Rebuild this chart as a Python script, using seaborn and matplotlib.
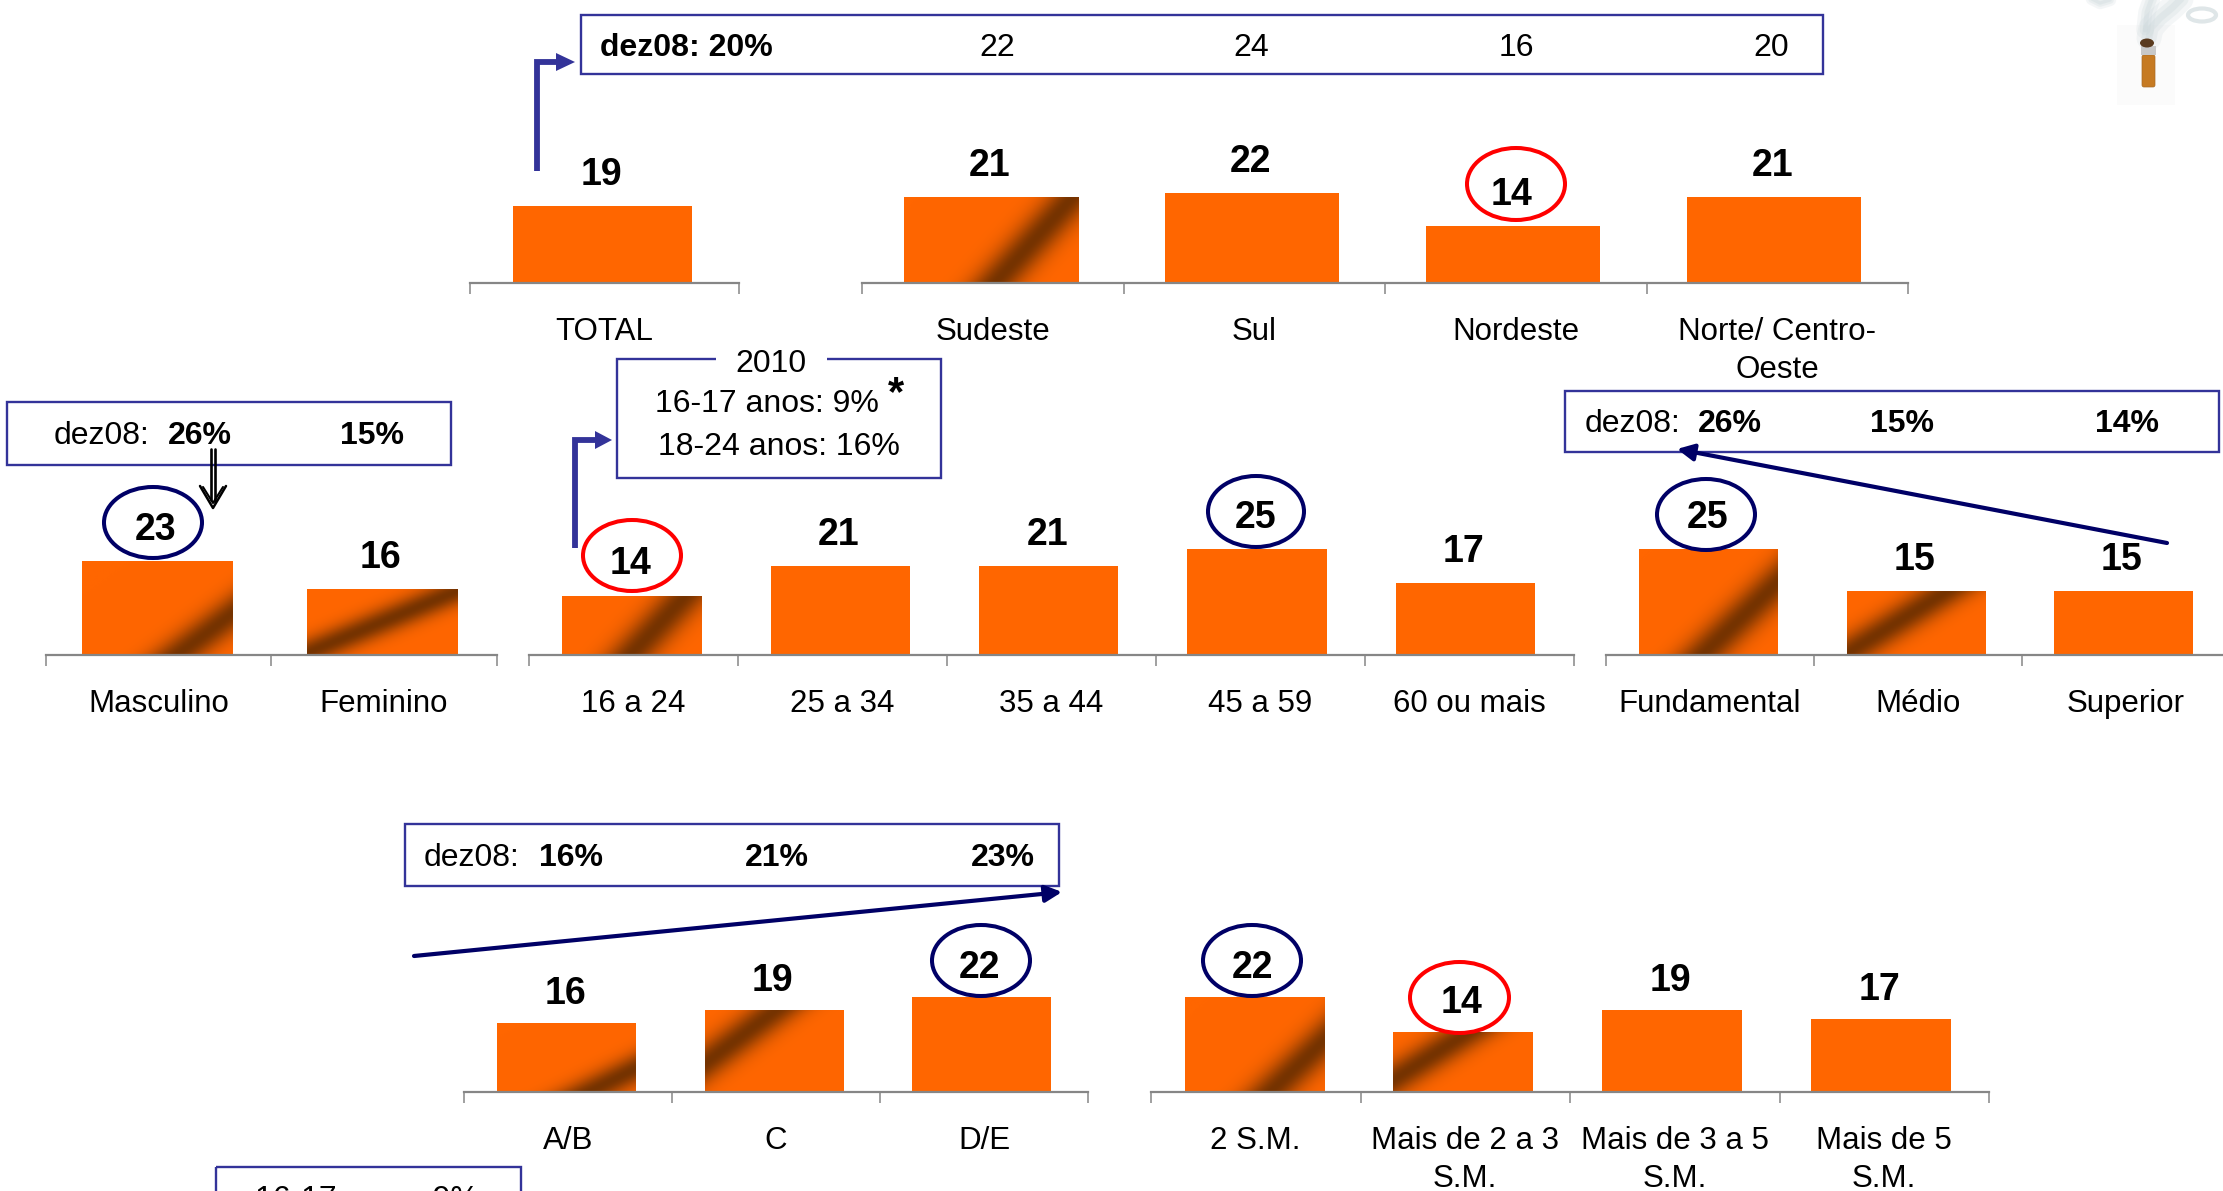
import numpy as np
import matplotlib
matplotlib.use("Agg")
import matplotlib.pyplot as plt
from matplotlib.patches import Ellipse, FancyBboxPatch, Polygon, Rectangle
import seaborn as sns

# Survey results per breakdown (percent)
total_labels = ["TOTAL"]
total_values = [19]
region_labels = ["Sudeste", "Sul", "Nordeste", "Norte/ Centro-\nOeste"]
region_values = [21, 22, 14, 21]
sex_labels = ["Masculino", "Feminino"]
sex_values = [23, 16]
age_labels = ["16 a 24", "25 a 34", "35 a 44", "45 a 59", "60 ou mais"]
age_values = [14, 21, 21, 25, 17]
school_labels = ["Fundamental", "Médio", "Superior"]
school_values = [25, 15, 15]
class_labels = ["A/B", "C", "D/E"]
class_values = [16, 19, 22]
income_labels = ["2 S.M.", "Mais de 2 a 3\nS.M.", "Mais de 3 a 5\nS.M.", "Mais de 5\nS.M."]
income_values = [22, 14, 19, 17]

# Previous wave, December 2008
dez08_region = ["22", "24", "16", "20"]

W, H = 2223, 1191
ORANGE = "#ff6600"
BROWN = (0.46, 0.20, 0.0)
BOX = "#333399"
NAVY = "#000066"
AXIS = "#868686"
PT = 72 / 100  # points per pixel at dpi 100

sns.set_theme(style="white")
plt.rcParams["font.family"] = ["Liberation Sans", "DejaVu Sans"]

fig = plt.figure(figsize=(W / 100, H / 100), dpi=100, facecolor="white")

# Panel layout: left tick, right tick, baseline, pixels per percent point, label gap
panels = [
    (total_labels, total_values, 469.5, 738.5, 283, 4.07, 31),
    (region_labels, region_values, 862, 1908, 283, 4.1, 31),
    (sex_labels, sex_values, 45.5, 497, 655, 4.1, 31),
    (age_labels, age_values, 529, 1574, 655, 4.25, 31),
    (school_labels, school_values, 1606, 2230, 655, 4.25, 31),
    (class_labels, class_values, 464, 1088, 1092, 4.3, 29),
    (income_labels, income_values, 1151, 1989, 1092, 4.3, 29),
]

# Diagonal sheen on some bars: (u0, v0, u1, v1) line in bar fractions
sheen = {
    "Sudeste": (0.52, 0, 0.97, 1),
    "Masculino": (0.63, 0, 1.0, 0.44),
    "Feminino": (0.0, 0.03, 0.95, 0.93),
    "16 a 24": (0.49, 0, 0.875, 0.97),
    "Fundamental": (0.455, 0, 1.0, 0.68),
    "Médio": (0.02, 0.05, 0.69, 0.96),
    "A/B": (0.66, 0, 1.0, 0.34),
    "C": (0.0, 0.35, 0.48, 0.96),
    "2 S.M.": (0.61, 0, 1.0, 0.55),
    "Mais de 2 a 3\nS.M.": (0.03, 0.24, 0.54, 0.98),
}


def add_sheen(ax, bar, line, px_w, px_h):
    x0, w, h = bar.get_x(), bar.get_width(), bar.get_height()
    u0, v0, u1, v1 = line
    nx, ny = int(px_w), int(px_h)
    xs = (np.arange(nx) + 0.5) / nx
    ys = (np.arange(ny) + 0.5) / ny
    uu, vv = np.meshgrid(xs, ys)
    # horizontal distance from the band centre, in pixels; shallow bands read wider
    cx = u0 + (vv - v0) * (u1 - u0) / (v1 - v0)
    d = (uu - cx) * px_w
    slope = abs((v1 - v0) * px_h / ((u1 - u0) * px_w))
    t = np.exp(-(d / (19.0 + 7.0 / slope)) ** 2)[..., None]
    rgb = np.array(matplotlib.colors.to_rgb(ORANGE)) * (1 - t) + np.array(BROWN) * t
    im = ax.imshow(rgb, extent=(x0, x0 + w, 0, h), origin="lower", aspect="auto",
                   zorder=bar.get_zorder() + 0.1, interpolation="bilinear")
    im.set_clip_path(bar)


for labels, values, left, right, base, scale, gap in panels:
    ax_h = 150
    ax = fig.add_axes([left / W, 1 - base / H, (right - left) / W, ax_h / H])
    ax.patch.set_alpha(0)
    sns.barplot(x=labels, y=values, order=labels, color=ORANGE, saturation=1,
                width=2 / 3, linewidth=0, ax=ax)
    n = len(labels)
    slot_px = (right - left) / n
    bar_px = slot_px * 2 / 3
    for i, (name, val, bar) in enumerate(zip(labels, values, ax.patches)):
        # bars sit a touch left of their slot, increasingly so along the panel
        bar.set_x(bar.get_x() - (1.4 + 0.7 * i) / slot_px)
        if name in sheen:
            add_sheen(ax, bar, sheen[name], bar_px, val * scale)
        ax.annotate(str(val), (bar.get_x() + bar.get_width() / 2, val),
                    xytext=(-1.5 * PT, gap * PT), textcoords="offset points",
                    ha="center", va="center", fontsize=27, fontweight="bold",
                    color="black", annotation_clip=False)
    ax.set_xlim(-0.5, n - 0.5)
    ax.set_ylim(0, ax_h / scale)
    sns.despine(ax=ax, left=True, top=True, right=True)
    ax.spines["bottom"].set_color(AXIS)
    ax.spines["bottom"].set_linewidth(1.6)
    ax.set_yticks([])
    ax.set_xlabel("")
    ax.set_ylabel("")
    ax.set_xticks(range(n))
    ax.set_xticklabels(labels, fontsize=22.5, color="black", linespacing=1.36)
    ax.set_xticks(np.arange(n + 1) - 0.5, minor=True)
    ax.tick_params(axis="x", which="major", length=0, pad=24.5)
    ax.tick_params(axis="x", which="minor", length=11 * PT, width=1.1,
                   color=AXIS, bottom=True, direction="out")

# Callouts, rings and arrows share one pixel-addressed overlay
ov = fig.add_axes([0, 0, 1, 1], zorder=10)
ov.set_xlim(0, W)
ov.set_ylim(H, 0)
ov.axis("off")
ov.patch.set_alpha(0)


def box(x0, y0, x1, y1):
    ov.add_patch(Rectangle((x0, y0), x1 - x0, y1 - y0, fill=False, ec=BOX, lw=1.7, zorder=3))


def label(x, y, s, ha="center", bold=False, size=23, **kw):
    ov.text(x, y + 2.5, s, ha=ha, va="center", fontsize=size, color="black",
            fontweight="bold" if bold else "normal", zorder=5, **kw)


def elbow(x, y_bottom, y_top, x_head0, x_tip):
    ov.plot([x, x, x_head0], [y_bottom, y_top, y_top], color=BOX, lw=4.2,
            solid_joinstyle="miter", solid_capstyle="butt", zorder=4)
    ov.add_patch(Polygon([(x_head0, y_top - 9), (x_tip, y_top), (x_head0, y_top + 9)],
                         closed=True, fc=BOX, ec="none", zorder=4))


def slanted(x0, y0, x1, y1):
    ov.annotate("", xy=(x1, y1), xytext=(x0, y0), zorder=4,
                arrowprops=dict(arrowstyle="-|>,head_width=0.25,head_length=0.5", color=NAVY,
                                lw=3, shrinkA=0, shrinkB=0, mutation_scale=20))


def ring(x0, y0, x1, y1, color):
    ov.add_patch(Ellipse(((x0 + x1) / 2, (y0 + y1) / 2), x1 - x0, y1 - y0,
                         fill=False, ec=color, lw=2.9, zorder=4))


# Top row: December 2008 strip
box(581, 15, 1823, 74)
label(600, 45, "dez08: 20%", ha="left", bold=True)
for x, s in zip([997, 1251, 1516, 1771], dez08_region):
    label(x, 45, s)
elbow(537, 171, 62, 556, 575)

# Sex strip with a black double-shafted arrow
box(7, 402, 451, 465)
label(54, 433, "dez08:", ha="left")
label(168, 433, "26%", ha="left", bold=True)
label(372, 433, "15%", bold=True)
ov.plot([211, 211], [449, 500], color="black", lw=1.9, zorder=6)
ov.plot([214.5, 214.5], [449, 502], color="black", lw=1.9, zorder=6)
ov.plot([200, 213, 226], [486, 508, 486], color="black", lw=1.8, zorder=6)
ov.plot([203, 213, 223], [487, 503, 487], color="black", lw=1.5, zorder=6)

# Age callout with a title breaking its top edge
box(617, 359, 941, 478)
ov.add_patch(Rectangle((716, 350), 111, 20, fc="white", ec="none", zorder=4))
label(771, 361, "2010")
label(767, 401, "16-17 anos: 9%")
label(896, 392, "*", bold=True, size=30)
label(779, 444.5, "18-24 anos: 16%")
elbow(575, 548, 440, 595, 612)

# Schooling strip
box(1565, 391, 2219, 452)
label(1585, 421, "dez08:", ha="left")
label(1698, 421, "26%", ha="left", bold=True)
label(1902, 421, "15%", bold=True)
label(2127, 421, "14%", bold=True)
slanted(2167, 543, 1677, 449)

# Class strip
box(405, 824, 1059, 886)
label(424, 855, "dez08:", ha="left")
label(539, 855, "16%", ha="left", bold=True)
label(777, 855, "21%", bold=True)
label(1003, 855, "23%", bold=True)
slanted(414, 956, 1062, 892)

# Callout running off the lower edge
box(216, 1167, 521, 1230)
label(367, 1197, "16-17 anos: 9%")

# Highlight rings around notable values
ring(1467, 148, 1565, 220, "#ff0000")
ring(104, 487, 202, 558, NAVY)
ring(583, 520, 681, 591, "#ff0000")
ring(1208, 476, 1304, 547, NAVY)
ring(1657, 479, 1755, 550, NAVY)
ring(932, 925, 1030, 996, NAVY)
ring(1203, 925, 1301, 996, NAVY)
ring(1410, 962, 1509, 1033, "#ff0000")

# Cigarette with a wisp of smoke, top right
ov.add_patch(Rectangle((2117, 25), 58, 80, fc="#fbfbfb", ec="none", zorder=1))
smoke_x = [2149, 2151, 2160, 2172, 2182]
smoke_y = [38, 28, 18, 8, -2]
for lw, a in [(18, 0.18), (11, 0.22), (5, 0.25)]:
    ov.plot(smoke_x, smoke_y, color="#c5d2d6", lw=lw, alpha=a, solid_capstyle="round", zorder=2)
    ov.plot([2145, 2147, 2152], [30, 12, -2], color="#c5d2d6", lw=lw * 0.7, alpha=a, zorder=2)
    ov.plot([2092, 2100, 2110], [-1, 3, 0], color="#c5d2d6", lw=lw * 0.5, alpha=a, zorder=2)
ov.add_patch(Ellipse((2202, 15), 28, 13, fill=False, ec="#dfe6e8", lw=3, zorder=2))
ov.add_patch(FancyBboxPatch((2143, 56), 11, 30, boxstyle="round,pad=1,rounding_size=2",
                            fc="#c67a22", ec="#a86a24", lw=0.5, zorder=3))
ov.add_patch(Rectangle((2141, 46), 15, 9, fc="#c8c8c8", ec="none", zorder=3))
ov.add_patch(Ellipse((2147, 43), 14, 9, fc="#5a3a1e", ec="none", zorder=4))

fig.savefig("out.png", dpi=100)
